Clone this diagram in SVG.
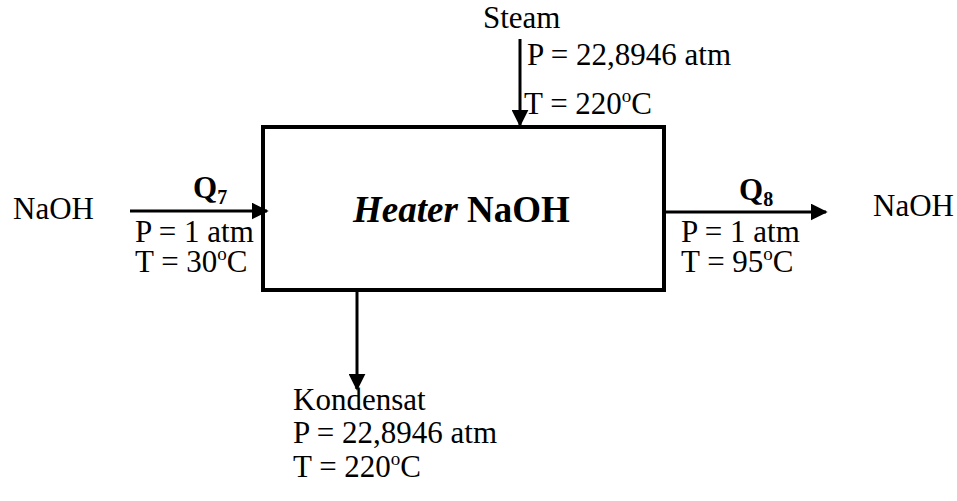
<svg xmlns="http://www.w3.org/2000/svg" width="957" height="501" viewBox="0 0 957 501">
<style>
text{font-family:"Liberation Serif","Times New Roman",serif;font-size:31px;fill:#000}
.b{font-weight:bold}
.big{font-size:37px;font-weight:bold}
.sup{font-size:19px}
.sub{font-size:20px;font-weight:bold}
.ln{stroke:#000;stroke-width:3;fill:none}
</style>
<defs>
<marker id="ah" viewBox="0 0 10 10" refX="9" refY="5" markerWidth="17" markerHeight="17" markerUnits="userSpaceOnUse" orient="auto">
<path d="M0,0L10,5L0,10z" fill="#000"/>
</marker>
</defs>
<g id="heater">
<rect x="263" y="127" width="401" height="163" fill="#fff" stroke="#000" stroke-width="4"/>
<text x="353" y="222" class="big" font-family="Liberation Serif, serif"><tspan font-style="italic">Heater</tspan> NaOH</text>
</g>
<g id="connectors">
<line class="ln" x1="520" y1="39" x2="520" y2="125" marker-end="url(#ah)"/>
<line class="ln" x1="130" y1="211" x2="267" y2="211" marker-end="url(#ah)"/>
<line class="ln" x1="664" y1="212" x2="826" y2="212" marker-end="url(#ah)"/>
<line class="ln" x1="357" y1="290" x2="357" y2="389" marker-end="url(#ah)"/>
</g>
<g id="steam" font-family="Liberation Serif, serif">
<text x="483" y="28">Steam</text>
<text x="527" y="65">P = 22,8946 atm</text>
<text x="524" y="114">T = 220<tspan class="sup" dy="-12">o</tspan><tspan dy="12">C</tspan></text>
</g>
<g id="inlet" font-family="Liberation Serif, serif">
<text x="13" y="219">NaOH</text>
<text x="193" y="198" class="b">Q<tspan class="sub" dy="6">7</tspan></text>
<text x="135" y="242">P = 1 atm</text>
<text x="135" y="272">T = 30<tspan class="sup" dy="-12">o</tspan><tspan dy="12">C</tspan></text>
</g>
<g id="outlet" font-family="Liberation Serif, serif">
<text x="873" y="216">NaOH</text>
<text x="739" y="200" class="b">Q<tspan class="sub" dy="6">8</tspan></text>
<text x="681" y="242">P = 1 atm</text>
<text x="681" y="272">T = 95<tspan class="sup" dy="-12">o</tspan><tspan dy="12">C</tspan></text>
</g>
<g id="kondensat" font-family="Liberation Serif, serif">
<text x="293" y="410">Kondensat</text>
<text x="293" y="443">P = 22,8946 atm</text>
<text x="293" y="477">T = 220<tspan class="sup" dy="-12">o</tspan><tspan dy="12">C</tspan></text>
</g>
</svg>
